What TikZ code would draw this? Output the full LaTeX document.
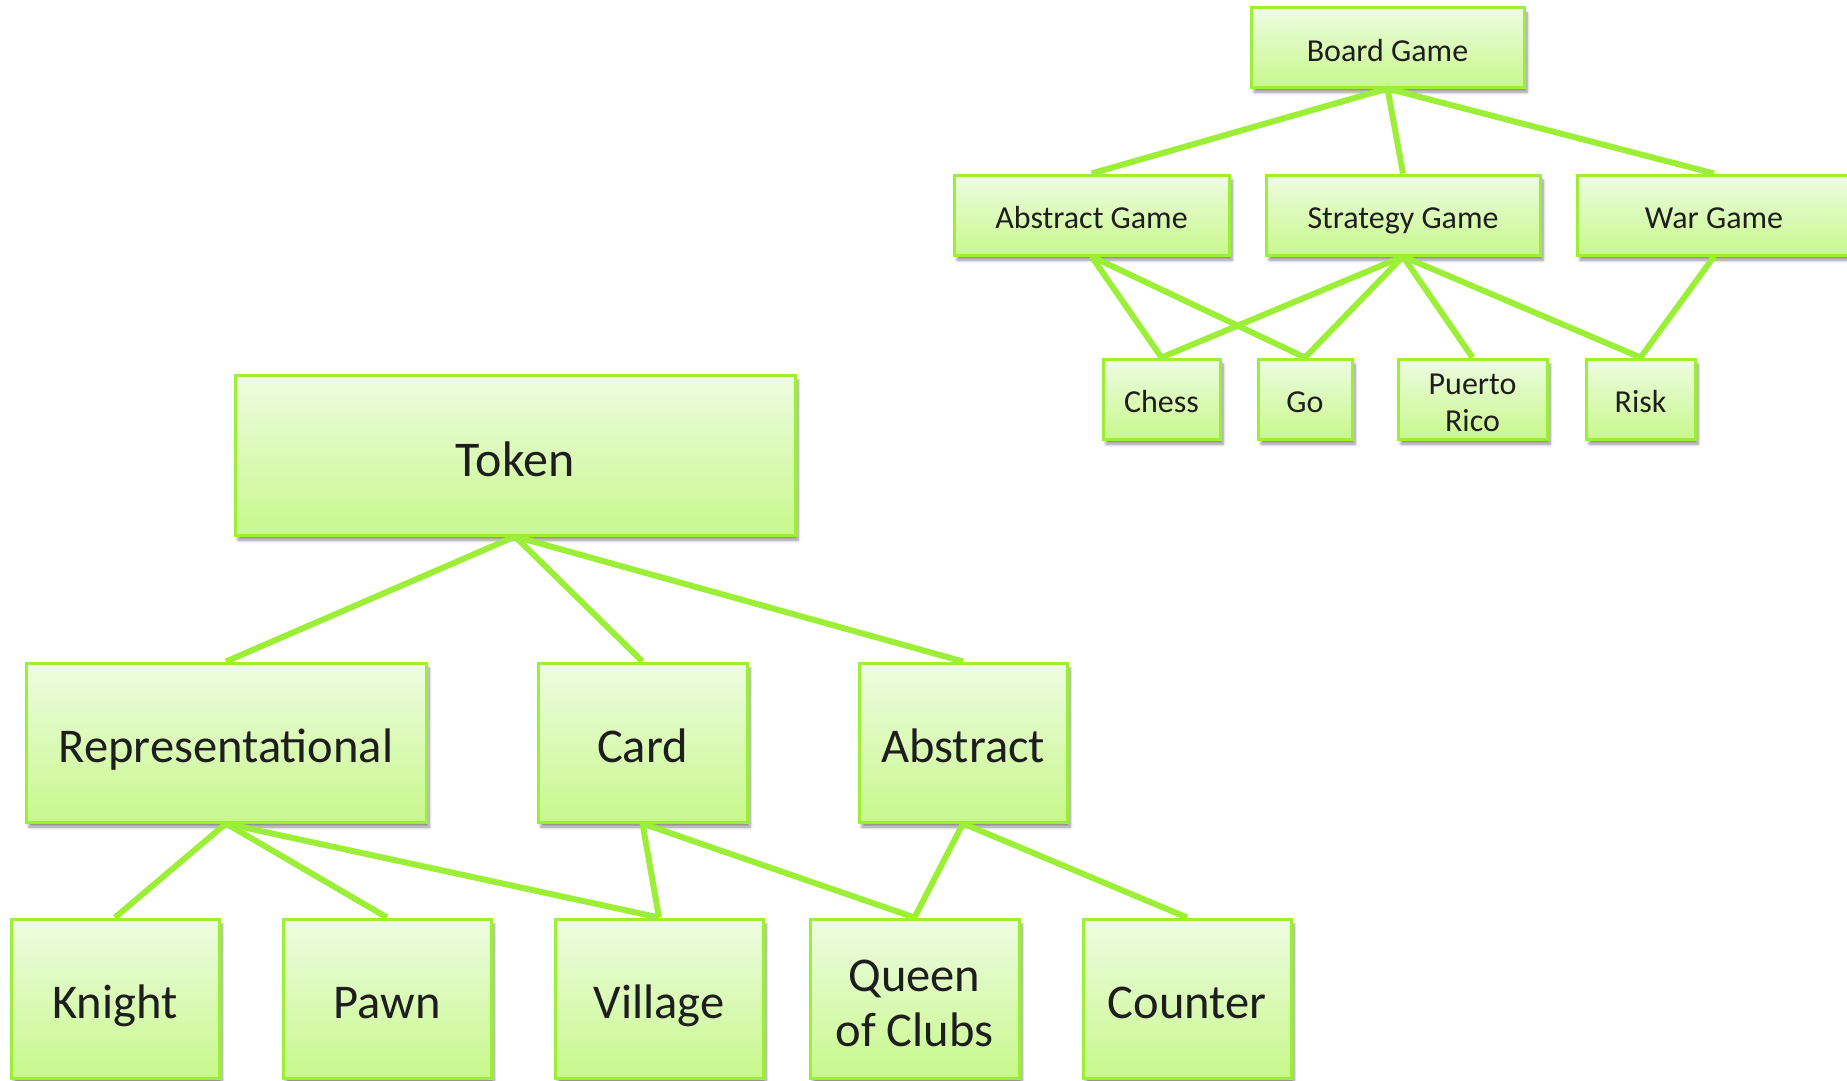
\documentclass[tikz,border=0pt]{standalone}
\usepackage{fontspec}
\setmainfont{Carlito}
\usetikzlibrary{shadows.blur}
\definecolor{linegreen}{RGB}{155,240,55}
\definecolor{fillTop}{RGB}{238,252,226}
\definecolor{fillBot}{RGB}{200,248,140}
\definecolor{inkdark}{RGB}{30,30,30}
\tikzset{
  gamebox/.style={draw=linegreen, line width=3pt, top color=fillTop, bottom color=fillBot,
    inner sep=0pt, align=center, text=inkdark,
    blur shadow={shadow xshift=3pt, shadow yshift=-5pt, shadow blur steps=6, shadow opacity=45, shadow blur radius=3pt}},
  smallbox/.style={gamebox, font=\fontsize{32}{37}\selectfont, minimum height=80pt,
    text height=32pt, text depth=4.5pt},
  bigbox/.style={gamebox, font=\fontsize{48.5}{55}\selectfont, minimum height=159pt,
    text height=48.5pt, text depth=7.7pt},
  % two-line labels: the height covers the extra line above the last baseline
  smalltwo/.style={smallbox, text height=69pt},
  bigtwo/.style={bigbox, text height=103.5pt},
  link/.style={draw=linegreen, line width=6pt}
}
\begin{document}
\begin{tikzpicture}[x=1pt,y=-1pt]
\useasboundingbox (0,0) rectangle (1847,1081);
% board game hierarchy
\node[smallbox, minimum width=273pt, minimum height=79pt] (board) at (1387.5,47.5) {Board Game};
\node[smallbox, minimum width=275pt] (abstractgame) at (1091.5,215) {Abstract Game};
\node[smallbox, minimum width=274pt] (strategy) at (1403,215) {Strategy Game};
\node[smallbox, minimum width=274pt] (war) at (1714,215) {War Game};
\node[smallbox, minimum width=117pt] (chess) at (1161.5,399) {Chess};
\node[smallbox, minimum width=94pt] (go) at (1305,399) {Go};
\node[smalltwo, minimum width=149pt] (puerto) at (1472.5,399) {Puerto\\Rico};
\node[smallbox, minimum width=109pt] (risk) at (1640.5,399) {Risk};
% token hierarchy
\node[gamebox, font=\fontsize{50}{58}\selectfont, minimum width=560pt, minimum height=160pt,
  text height=50pt, text depth=8pt] (token) at (515,455) {Token};
\node[bigbox, minimum width=400pt] (repr) at (226,742.5) {Representational};
\node[bigbox, minimum width=209pt] (card) at (642.5,742.5) {Card};
\node[bigbox, minimum width=208pt] (abstract) at (963,742.5) {Abstract};
\node[bigbox, minimum width=208pt] (knight) at (115,998.5) {Knight};
\node[bigbox, minimum width=208pt] (pawn) at (387,998.5) {Pawn};
\node[bigbox, minimum width=208pt] (village) at (659,998.5) {Village};
\node[bigtwo, minimum width=209pt] (queen) at (914.5,998.5) {Queen\\of Clubs};
\node[bigbox, minimum width=208pt] (counter) at (1187,998.5) {Counter};
% connectors
\draw[link] (board.south) -- (abstractgame.north);
\draw[link] (board.south) -- (strategy.north);
\draw[link] (board.south) -- (war.north);
\draw[link] (abstractgame.south) -- (chess.north);
\draw[link] (abstractgame.south) -- (go.north);
\draw[link] (strategy.south) -- (chess.north);
\draw[link] (strategy.south) -- (go.north);
\draw[link] (strategy.south) -- (puerto.north);
\draw[link] (strategy.south) -- (risk.north);
\draw[link] (war.south) -- (risk.north);
\draw[link] (token.south) -- (repr.north);
\draw[link] (token.south) -- (card.north);
\draw[link] (token.south) -- (abstract.north);
\draw[link] (repr.south) -- (knight.north);
\draw[link] (repr.south) -- (pawn.north);
\draw[link] (repr.south) -- (village.north);
\draw[link] (card.south) -- (village.north);
\draw[link] (card.south) -- (queen.north);
\draw[link] (abstract.south) -- (queen.north);
\draw[link] (abstract.south) -- (counter.north);
\end{tikzpicture}
\end{document}
